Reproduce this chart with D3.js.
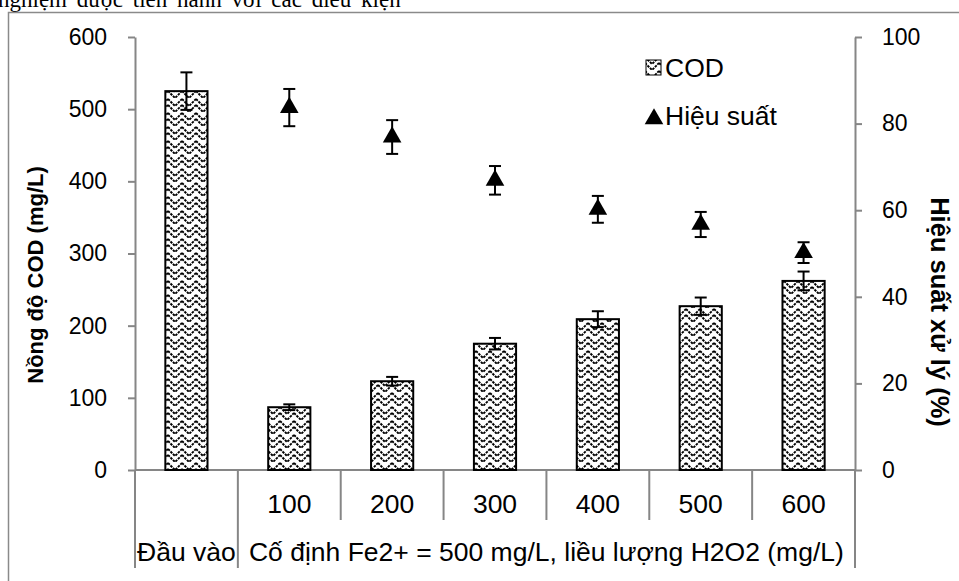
<!DOCTYPE html>
<html>
<head>
<meta charset="utf-8">
<script src="https://cdn.jsdelivr.net/npm/d3@7"></script>
<style>
	body { margin: 0; background: #fff; }
	svg { display: block; }
</style>
</head>
<body>
<div id="container"></div>
<script>
// chart values
const categories = ['Đầu vào', '100', '200', '300', '400', '500', '600'];
const codValues = [525, 87, 123, 175, 209, 227, 262];
const codErrors = [26, 4, 6, 8, 11, 12, 13];
const efficiency = [null, 83.7, 76.9, 66.9, 60.2, 56.7, 50.2];
const efficiencyErrors = [null, 4.3, 3.9, 3.3, 3.1, 2.9, 2.4];
const leftTicks = [0, 100, 200, 300, 400, 500, 600];
const rightTicks = [0, 20, 40, 60, 80, 100];
const groupLabel = 'Cố định Fe2+ = 500 mg/L, liều lượng H2O2 (mg/L)';
const leftTitle = 'Nồng độ COD (mg/L)';
const rightTitle = 'Hiệu suất xử lý (%)';
const legendLabels = ['COD', 'Hiệu suất'];

window.onload = function () {
	'use strict';
	let options = {
		width: 959,
		height: 581,
		left: 135,
		right: 855,
		top: 37,
		bottom: 470,
		axisColor: '#868686',
		font: '"Liberation Sans", Arial, sans-serif',
		labelSize: 26.5,
	};

	let svg = d3
		.select('#container')
		.append('svg')
		.attr('width', options.width)
		.attr('height', options.height);

	// hatch pattern for the bars
	let pattern = svg
		.append('defs')
		.append('pattern')
		.attr('id', 'zigzag')
		.attr('patternUnits', 'userSpaceOnUse')
		.attr('width', 14)
		.attr('height', 14);
	pattern.append('rect').attr('width', 14).attr('height', 14).attr('fill', '#fff');
	pattern
		.append('path')
		.attr('d', 'M0,1 L7,8 L14,1 M0,7 L7,14 L14,7')
		.attr('fill', 'none')
		.attr('stroke', '#000')
		.attr('stroke-width', 1.9)
		.attr('stroke-dasharray', '2.5,1');

	// caption above the frame, cut by the page top as in the source
	svg
		.append('text')
		.attr('x', -2)
		.attr('y', 7)
		.attr('font-family', '"Liberation Serif", "Times New Roman", serif')
		.attr('font-size', 23)
		.attr('word-spacing', 4)
		.text('nghiệm được tiến hành với các điều kiện');

	// outer frame
	svg
		.append('rect')
		.attr('x', 8.5)
		.attr('y', 12.5)
		.attr('width', 1000)
		.attr('height', 1000)
		.attr('fill', 'none')
		.attr('stroke', '#8a8a8a')
		.attr('stroke-width', 1.5);

	let x = d3
		.scaleBand()
		.domain(categories)
		.range([options.left, options.right])
		.padding(0);
	let yLeft = d3.scaleLinear().domain([0, 600]).range([options.bottom, options.top]);
	let yRight = d3.scaleLinear().domain([0, 100]).range([options.bottom, options.top]);

	// left axis
	let leftAxis = svg
		.append('g')
		.attr('transform', 'translate(' + options.left + ',0)')
		.call(d3.axisLeft(yLeft).tickValues(leftTicks).tickSize(7).tickSizeOuter(0).tickPadding(21));
	// right axis
	let rightAxis = svg
		.append('g')
		.attr('transform', 'translate(' + options.right + ',0)')
		.call(d3.axisRight(yRight).tickValues(rightTicks).tickSize(7).tickSizeOuter(0).tickPadding(20));

	[leftAxis, rightAxis].forEach((g) => {
		g.select('.domain').attr('stroke', options.axisColor).attr('stroke-width', 2);
		g.selectAll('.tick line').attr('stroke', options.axisColor).attr('stroke-width', 2);
		g.selectAll('.tick text')
			.attr('fill', '#000')
			.attr('font-family', options.font)
			.attr('font-size', 23);
	});

	// category axis with two label rows
	let xAxis = svg.append('g');
	xAxis
		.append('line')
		.attr('x1', options.left)
		.attr('x2', options.right)
		.attr('y1', options.bottom)
		.attr('y2', options.bottom)
		.attr('stroke', options.axisColor)
		.attr('stroke-width', 2);
	let edges = categories.map((c) => x(c)).concat([options.right]);
	xAxis
		.selectAll('line.divider')
		.data(edges)
		.enter()
		.append('line')
		.attr('class', 'divider')
		.attr('x1', (d) => d)
		.attr('x2', (d) => d)
		.attr('y1', options.bottom)
		.attr('y2', (d, i) => (i <= 1 || i == edges.length - 1 ? 568 : 520))
		.attr('stroke', options.axisColor)
		.attr('stroke-width', 2);
	xAxis
		.selectAll('text.level1')
		.data(categories.slice(1))
		.enter()
		.append('text')
		.attr('class', 'level1')
		.attr('x', (d) => x(d) + x.bandwidth() / 2)
		.attr('y', 513)
		.attr('text-anchor', 'middle')
		.attr('font-family', options.font)
		.attr('font-size', options.labelSize)
		.text((d) => d);
	xAxis
		.append('text')
		.attr('x', x(categories[0]) + x.bandwidth() / 2)
		.attr('y', 561)
		.attr('text-anchor', 'middle')
		.attr('font-family', options.font)
		.attr('font-size', options.labelSize)
		.text(categories[0]);
	xAxis
		.append('text')
		.attr('x', (x(categories[1]) + options.right) / 2)
		.attr('y', 561)
		.attr('text-anchor', 'middle')
		.attr('font-family', options.font)
		.attr('font-size', options.labelSize)
		.text(groupLabel);

	// axis titles
	svg
		.append('text')
		.attr('transform', 'translate(43,275) rotate(-90)')
		.attr('text-anchor', 'middle')
		.attr('font-family', options.font)
		.attr('font-weight', 'bold')
		.attr('font-size', 22)
		.text(leftTitle);
	svg
		.append('text')
		.attr('transform', 'translate(931,312) rotate(90)')
		.attr('text-anchor', 'middle')
		.attr('font-family', options.font)
		.attr('font-weight', 'bold')
		.attr('font-size', 25.5)
		.text(rightTitle);

	// COD bars
	let barWidth = x.bandwidth() * 0.41;
	let bars = categories.map((c, i) => ({ cat: c, value: codValues[i], err: codErrors[i] }));
	svg
		.selectAll('rect.bar')
		.data(bars)
		.enter()
		.append('rect')
		.attr('class', 'bar')
		.attr('x', (d) => x(d.cat) + (x.bandwidth() - barWidth) / 2)
		.attr('y', (d) => yLeft(d.value))
		.attr('width', barWidth)
		.attr('height', (d) => yLeft(0) - yLeft(d.value))
		.attr('fill', 'url(#zigzag)')
		.attr('stroke', '#000')
		.attr('stroke-width', 2);

	function errorBars(data, scale, cls) {
		let g = svg.selectAll('g.' + cls).data(data).enter().append('g').attr('class', cls);
		let cx = (d) => x(d.cat) + x.bandwidth() / 2;
		g.append('line')
			.attr('x1', cx)
			.attr('x2', cx)
			.attr('y1', (d) => scale(d.value - d.err))
			.attr('y2', (d) => scale(d.value + d.err));
		g.append('line')
			.attr('x1', (d) => cx(d) - 6)
			.attr('x2', (d) => cx(d) + 6)
			.attr('y1', (d) => scale(d.value + d.err))
			.attr('y2', (d) => scale(d.value + d.err));
		g.append('line')
			.attr('x1', (d) => cx(d) - 6)
			.attr('x2', (d) => cx(d) + 6)
			.attr('y1', (d) => scale(d.value - d.err))
			.attr('y2', (d) => scale(d.value - d.err));
		g.selectAll('line').attr('stroke', '#000').attr('stroke-width', 2);
	}
	errorBars(bars, yLeft, 'barerr');

	// efficiency points
	let points = categories
		.map((c, i) => ({ cat: c, value: efficiency[i], err: efficiencyErrors[i] }))
		.filter((d) => d.value != null);
	let triangle = d3.symbol().type(d3.symbolTriangle).size(150);
	svg
		.selectAll('path.point')
		.data(points)
		.enter()
		.append('path')
		.attr('class', 'point')
		.attr('d', triangle)
		.attr('transform', (d) => 'translate(' + (x(d.cat) + x.bandwidth() / 2) + ',' + yRight(d.value) + ')')
		.attr('fill', '#000');
	errorBars(points, yRight, 'pointerr');

	// legend
	let legend = svg.append('g').attr('transform', 'translate(645,0)');
	legend
		.append('rect')
		.attr('x', 1)
		.attr('y', 60)
		.attr('width', 15)
		.attr('height', 15)
		.attr('fill', 'url(#zigzag)')
		.attr('stroke', '#000')
		.attr('stroke-width', 1);
	legend
		.append('path')
		.attr('d', triangle)
		.attr('transform', 'translate(9,119)')
		.attr('fill', '#000');
	legend
		.selectAll('text')
		.data(legendLabels)
		.enter()
		.append('text')
		.attr('x', 20)
		.attr('y', (d, i) => 77 + i * 48)
		.attr('font-family', options.font)
		.attr('font-size', options.labelSize)
		.text((d) => d);
};
</script>
</body>
</html>
